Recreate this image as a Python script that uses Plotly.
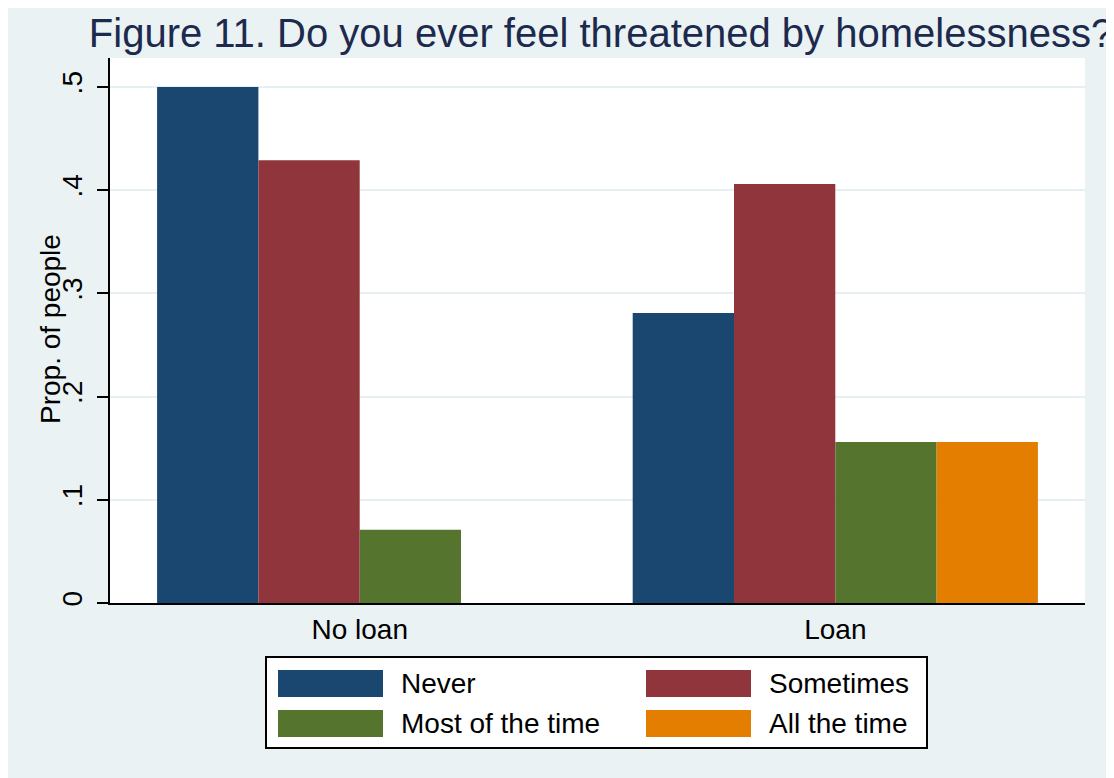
import plotly.graph_objects as go

# ---- data ----
categories = ["No loan", "Loan"]
series_names = ["Never", "Sometimes", "Most of the time", "All the time"]
never = [0.5, 0.281]
sometimes = [0.429, 0.406]
most_of_the_time = [0.071, 0.156]
all_the_time = [0.0, 0.156]
series_values = [never, sometimes, most_of_the_time, all_the_time]
y_tickvals = [0, 0.1, 0.2, 0.3, 0.4, 0.5]
y_ticktext = ["0", ".1", ".2", ".3", ".4", ".5"]
colors = ["#1A476F", "#90353B", "#55752F", "#E37E00"]

W, H = 1114, 778
OFF = 8  # page body margin offset
L, R, T, B = 110, 1085, 58, 603  # plot area in screenshot pixels
FONT = "Arial, Liberation Sans, sans-serif"


def px_x(p):
    return (p - L) / (R - L)


def px_y(p):
    return (B - p) / (B - T)


fig = go.Figure()
for name, vals, col in zip(series_names, series_values, colors):
    fig.add_trace(go.Bar(x=categories, y=vals, name=name,
                         marker=dict(color=col, line=dict(width=0)),
                         showlegend=False))

# ---- manual legend (Stata-like big swatches) ----
shapes = [dict(type="rect", xref="paper", yref="paper",
               x0=px_x(266), x1=px_x(927), y0=px_y(748), y1=px_y(657),
               fillcolor="white", line=dict(color="black", width=2), layer="below")]
annotations = []
swatch_cols = [(278, 383, 399), (646, 751, 767)]
swatch_rows = [(670, 697), (710, 737)]
for i, (name, col) in enumerate(zip(series_names, colors)):
    r, c = divmod(i, 2)
    sx0, sx1, tx = swatch_cols[c]
    sy0, sy1 = swatch_rows[r]
    shapes.append(dict(type="rect", xref="paper", yref="paper",
                       x0=px_x(sx0), x1=px_x(sx1), y0=px_y(sy1), y1=px_y(sy0),
                       fillcolor=col, line=dict(width=0)))
    annotations.append(dict(xref="paper", yref="paper", x=px_x(tx), y=px_y((sy0 + sy1) / 2),
                            text=name, showarrow=False, xanchor="left", yanchor="middle",
                            font=dict(family=FONT, size=28, color="black")))

# y-axis title
annotations.append(dict(xref="paper", yref="paper", x=px_x(50), y=px_y(329),
                        text="Prop. of people", showarrow=False, textangle=-90,
                        xanchor="center", yanchor="middle",
                        font=dict(family=FONT, size=28, color="black")))

fig.update_layout(
    width=W, height=H,
    margin=dict(l=L - OFF, r=W - (R - OFF), t=T - OFF, b=H - (B - OFF), pad=0),
    paper_bgcolor="#EAF2F3",
    plot_bgcolor="white",
    barmode="group",
    bargap=0.148,
    bargroupgap=0,
    title=dict(text="Figure 11. Do you ever feel threatened by homelessness?",
               x=px_x(601), xref="paper", xanchor="center",
               y=1 - (33 - OFF) / H, yref="container", yanchor="middle",
               font=dict(family=FONT, size=40, color="#1C2A4E")),
    shapes=shapes,
    annotations=annotations,
    showlegend=False,
)
fig.update_xaxes(
    type="category", range=[-0.525, 1.525],
    showline=True, linecolor="black", linewidth=2,
    ticks="", showgrid=False,
    tickfont=dict(family=FONT, size=28, color="black"),
)
fig.update_yaxes(
    range=[0, 0.528],
    tickvals=y_tickvals, ticktext=y_ticktext, tickangle=-90,
    showline=True, linecolor="black", linewidth=2,
    ticks="outside", ticklen=11, tickwidth=2, tickcolor="black",
    ticklabelstandoff=4,
    showgrid=True, gridcolor="#E6EFF1", gridwidth=2,
    zeroline=False,
    tickfont=dict(family=FONT, size=28, color="black"),
)

fig.write_html("out.html")
